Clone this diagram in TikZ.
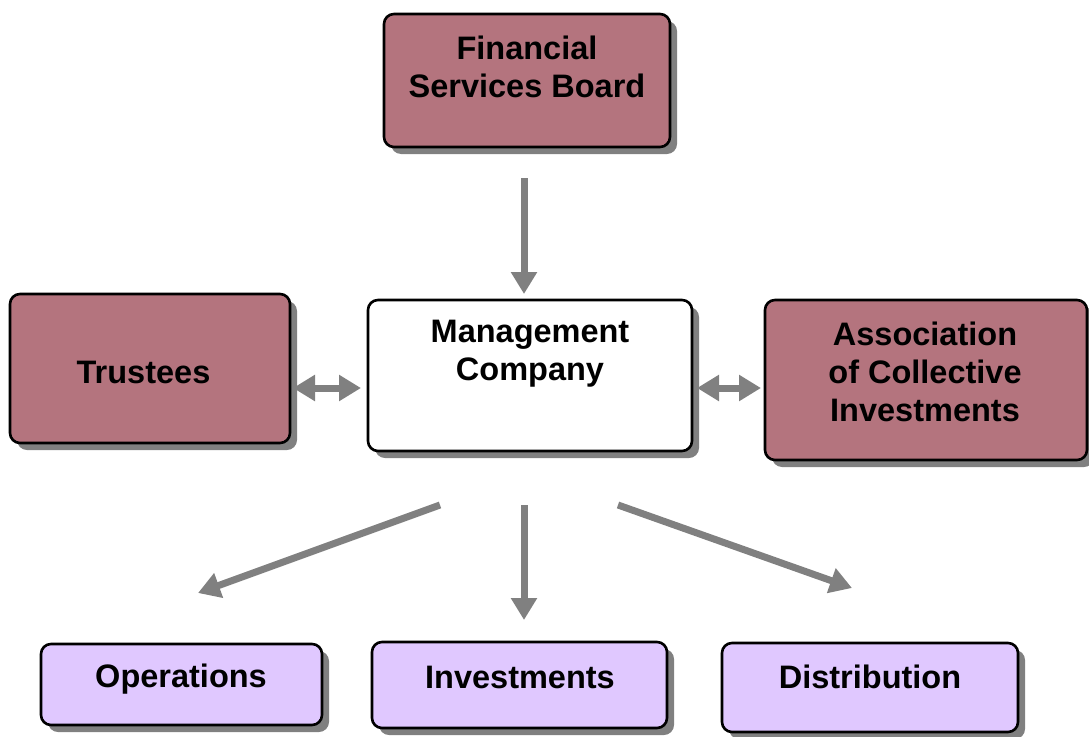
\documentclass[tikz,border=0pt]{standalone}
\usepackage{fontspec}
\setmainfont{Liberation Sans}
\usetikzlibrary{arrows.meta,shadows}
\definecolor{mauve}{RGB}{180,116,126}
\definecolor{lilac}{RGB}{224,200,255}
\definecolor{arrowgray}{RGB}{128,128,128}
\tikzset{
  box/.style={draw=black, line width=2.6pt, rounded corners=10pt,
    drop shadow={shadow xshift=7pt, shadow yshift=-7pt, fill=arrowgray, opacity=1}},
  upper/.style={box, fill=mauve},
  mgmt/.style={box, fill=white},
  lower/.style={box, fill=lilac},
  txt/.style={font=\fontsize{32.5}{38}\selectfont\bfseries, align=center, inner sep=0pt},
  conn/.style={draw=arrowgray, line width=7pt, -{Triangle[width=25pt,length=22pt]}},
  dconn/.style={draw=arrowgray, line width=7pt, {Triangle[width=25pt,length=22pt]}-{Triangle[width=25pt,length=22pt]}}
}
\begin{document}
\begin{tikzpicture}[x=1pt,y=-1pt]
\useasboundingbox (0,0) rectangle (1089,736);
% boxes
\node[upper, minimum width=286pt, minimum height=133pt] (fsb) at (527,80.5) {};
\node[upper, minimum width=280pt, minimum height=149pt] (tru) at (150,368.5) {};
\node[mgmt, minimum width=324pt, minimum height=151pt] (mc) at (530,375.5) {};
\node[upper, minimum width=322pt, minimum height=160pt] (aci) at (926,380) {};
\node[lower, minimum width=281pt, minimum height=81pt] (ops) at (181.5,684.5) {};
\node[lower, minimum width=295pt, minimum height=86pt] (inv) at (519.5,685) {};
\node[lower, minimum width=296pt, minimum height=89pt] (dis) at (870,687.5) {};
% texts
\node[txt] (fsbt) at (527,67) {Financial\\Services Board};
\node[txt] (trut) at (143.5,372) {Trustees};
\node[txt] (mct) at (530,354) {Management\\Company};
\node[txt] (acit) at (925,372) {Association\\of Collective\\Investments};
\node[txt] (opst) at (181,679) {Operations};
\node[txt] (invt) at (520,677) {Investments};
\node[txt] (dist) at (870,677) {Distribution};
% arrow end points
\coordinate (a1s) at (524,178); \coordinate (a1e) at (524,294);
\coordinate (a2s) at (293,388); \coordinate (a2e) at (361,388);
\coordinate (a3s) at (697,388); \coordinate (a3e) at (761,388);
\coordinate (a4s) at (440,505); \coordinate (a4e) at (198,593);
\coordinate (a5s) at (524,505); \coordinate (a5e) at (524,620);
\coordinate (a6s) at (618,505); \coordinate (a6e) at (852,588);
\draw[conn] (a1s) -- (a1e);
\draw[dconn] (a2s) -- (a2e);
\draw[dconn] (a3s) -- (a3e);
\draw[conn] (a4s) -- (a4e);
\draw[conn] (a5s) -- (a5e);
\draw[conn] (a6s) -- (a6e);
\end{tikzpicture}
\end{document}
